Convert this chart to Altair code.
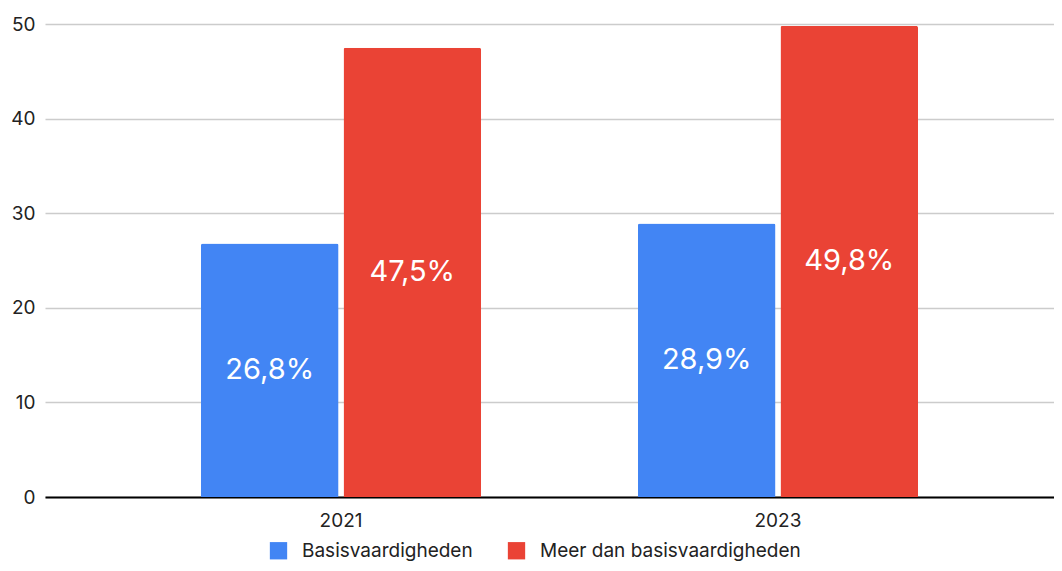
import altair as alt
import pandas as pd

years = ["2021", "2023"]
series = ["Basisvaardigheden", "Meer dan basisvaardigheden"]
basis = [26.8, 28.9]
meer = [47.5, 49.8]
colors = ["#4285F4", "#EA4335"]

rows = []
for i, y in enumerate(years):
    for s, vals in zip(series, [basis, meer]):
        v = vals[i]
        rows.append({"jaar": y, "reeks": s, "waarde": v,
                     "label": f"{v:.1f}".replace(".", ",") + "%"})
df = pd.DataFrame(rows)

FONT = "Inter"

x = alt.X("jaar:N", title=None,
          scale=alt.Scale(range=[0, 1029], paddingInner=0.359, paddingOuter=0.357),
          axis=alt.Axis(labelAngle=0, tickSize=0, labelPadding=14, domainColor="#000000",
                        domainWidth=2, labelFontSize=19, labelColor="#222222", labelFont=FONT,
                        grid=False))
xo = alt.XOffset("reeks:N", sort=series,
                 scale=alt.Scale(paddingInner=0.035, paddingOuter=0))

bars = alt.Chart(df).mark_bar(cornerRadiusTopLeft=2, cornerRadiusTopRight=2).encode(
    x=x,
    xOffset=xo,
    y=alt.Y("waarde:Q", title=None,
            scale=alt.Scale(domain=[0, 50], nice=False),
            axis=alt.Axis(values=[0, 10, 20, 30, 40, 50], domain=False, ticks=False,
                          labelPadding=10, labelFontSize=19, labelColor="#222222",
                          labelFont=FONT, gridColor="#cccccc", gridWidth=1.3)),
    color=alt.Color("reeks:N", sort=series,
                    scale=alt.Scale(domain=series, range=colors),
                    legend=alt.Legend(orient="none", legendX=224, legendY=517,
                                      direction="horizontal", title=None,
                                      symbolType="square", symbolSize=300,
                                      symbolStrokeWidth=0, symbolOpacity=1,
                                      labelFontSize=19, labelFont=FONT,
                                      labelColor="#222222", labelOffset=14,
                                      labelLimit=500, columnPadding=34)),
)

texts = alt.Chart(df).transform_calculate(half="datum.waarde / 2").mark_text(
    color="white", fontSize=29, font=FONT, baseline="middle"
).encode(
    x=x,
    xOffset=xo,
    y=alt.Y("half:Q"),
    text="label:N",
)

chart = alt.layer(bars, texts).properties(
    width=1009, height=473,
    autosize=alt.AutoSizeParams(type="none"),
    padding={"left": 37, "top": 16, "right": 0, "bottom": 66},
).configure_view(stroke=None)

chart.save("out.html", embed_options={"renderer": "svg", "actions": False})
